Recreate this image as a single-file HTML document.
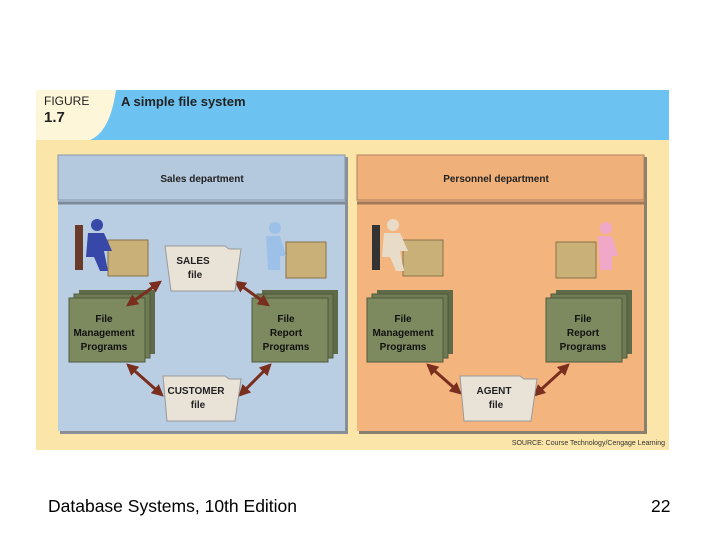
<!DOCTYPE html>
<html><head><style>
body{margin:0;width:720px;height:540px;background:#fff;overflow:hidden;font-family:"Liberation Sans",sans-serif}
svg{position:absolute;left:0;top:0}
.cap{position:absolute;top:496px;font-size:17.5px;color:#000}
</style></head><body>
<svg width="720" height="540" viewBox="0 0 720 540">
<defs>
<marker id="a" viewBox="0 0 10 10" refX="8" refY="5" markerWidth="4" markerHeight="4" orient="auto-start-reverse"><path d="M0,0L10,5L0,10z" fill="#7a2e1e"/></marker>
<g id="stk">
<rect x="10" y="0" width="76" height="64" fill="#5e6a48"/>
<rect x="5" y="4" width="76" height="64" fill="#6f7b55" stroke="#4f5a3c"/>
<rect x="0" y="8" width="76" height="64" fill="#7d8a60" stroke="#4f5a3c"/>
</g>
</defs>
<rect x="36" y="90" width="633" height="360" fill="#fbe5a8"/>
<rect x="36" y="90" width="633" height="50" fill="#6cc2f0"/>
<path d="M36 90H116 Q110 132 90 140H36z" fill="#fdf6d8"/>
<text x="44" y="105" font-size="12" font-family="Liberation Sans,sans-serif" fill="#222">FIGURE</text>
<text x="44" y="122" font-size="15" font-family="Liberation Sans,sans-serif" font-weight="bold" fill="#222">1.7</text>
<text x="121" y="106" font-size="13" font-family="Liberation Sans,sans-serif" font-weight="bold" fill="#222">A simple file system</text>
<rect x="60" y="157" width="288" height="277" fill="#8a8f96"/>
<rect x="58" y="155" width="287" height="276" fill="#b9cde3"/>
<rect x="58" y="155" width="287" height="45" fill="#b4c8de" stroke="#8899aa"/>
<line x1="58" y1="203" x2="345" y2="203" stroke="#7c8a9a" stroke-width="3"/>
<text x="202" y="182" font-size="10" font-weight="bold" text-anchor="middle" font-family="Liberation Sans,sans-serif" fill="#222">Sales department</text>
<rect x="359" y="157" width="288" height="277" fill="#8a8070"/>
<rect x="357" y="155" width="287" height="276" fill="#f3b47e"/>
<rect x="357" y="155" width="287" height="45" fill="#f0b07a" stroke="#b08060"/>
<line x1="357" y1="203" x2="644" y2="203" stroke="#a07858" stroke-width="3"/>
<text x="496" y="182" font-size="10" font-weight="bold" text-anchor="middle" font-family="Liberation Sans,sans-serif" fill="#222">Personnel department</text>
<g fill="#c8b078" stroke="#8a7448"><rect x="108" y="240" width="40" height="36"/><rect x="286" y="242" width="40" height="36"/><rect x="403" y="240" width="40" height="36"/><rect x="556" y="242" width="40" height="36"/></g>
<g fill="#3848a8"><circle cx="97" cy="225" r="6"/><path d="M88 233h16l8 18h-8l4 20h-8l-6-14h-8z"/></g>
<path d="M75 225h8v45h-8z" fill="#6a3a2a"/>
<g fill="#9cc0e8"><circle cx="275" cy="228" r="6"/><path d="M266 236h14l6 20h-6v14h-12z"/></g>
<g fill="#e8dcc8"><circle cx="393" cy="225" r="6"/><path d="M384 233h16l8 18h-8l4 20h-8l-6-14h-8z"/></g>
<path d="M372 225h8v45h-8z" fill="#333"/>
<g fill="#f0a8c8"><circle cx="606" cy="228" r="6"/><path d="M598 236h14l6 20h-6v14h-12z"/></g>
<use href="#stk" x="69" y="290"/><use href="#stk" x="252" y="290"/>
<use href="#stk" x="367" y="290"/><use href="#stk" x="546" y="290"/>
<g font-size="10" font-weight="bold" text-anchor="middle" font-family="Liberation Sans,sans-serif" fill="#111">
<text x="104" y="322">File</text><text x="104" y="336">Management</text><text x="104" y="350">Programs</text>
<text x="286" y="322">File</text><text x="286" y="336">Report</text><text x="286" y="350">Programs</text>
<text x="403" y="322">File</text><text x="403" y="336">Management</text><text x="403" y="350">Programs</text>
<text x="583" y="322">File</text><text x="583" y="336">Report</text><text x="583" y="350">Programs</text>
</g>
<g stroke="#7a2e1e" stroke-width="3" marker-start="url(#a)" marker-end="url(#a)">
<line x1="160" y1="282" x2="128" y2="305"/><line x1="236" y1="282" x2="268" y2="305"/>
<line x1="128" y1="365" x2="162" y2="395"/><line x1="270" y1="365" x2="240" y2="395"/>
<line x1="428" y1="365" x2="460" y2="393"/><line x1="568" y1="365" x2="535" y2="395"/>
</g>
<g fill="#e9e2d6" stroke="#999">
<path d="M165 246h60l4 3h12l-6 42h-64z"/>
<path d="M163 376h62l4 3h12l-6 42h-68z"/>
<path d="M460 376h60l4 3h13l-6 42h-67z"/>
</g>
<g font-size="10" font-weight="bold" text-anchor="middle" font-family="Liberation Sans,sans-serif" fill="#222">
<text x="193" y="264">SALES</text><text x="195" y="278">file</text>
<text x="196" y="394">CUSTOMER</text><text x="198" y="408">file</text>
<text x="494" y="394">AGENT</text><text x="496" y="408">file</text>
</g>
<text x="665" y="445" font-size="7" text-anchor="end" font-family="Liberation Sans,sans-serif" fill="#333">SOURCE: Course Technology/Cengage Learning</text>
</svg>
<div class="cap" style="left:48px">Database Systems, 10th Edition</div>
<div class="cap" style="left:651px">22</div>
</body></html>
